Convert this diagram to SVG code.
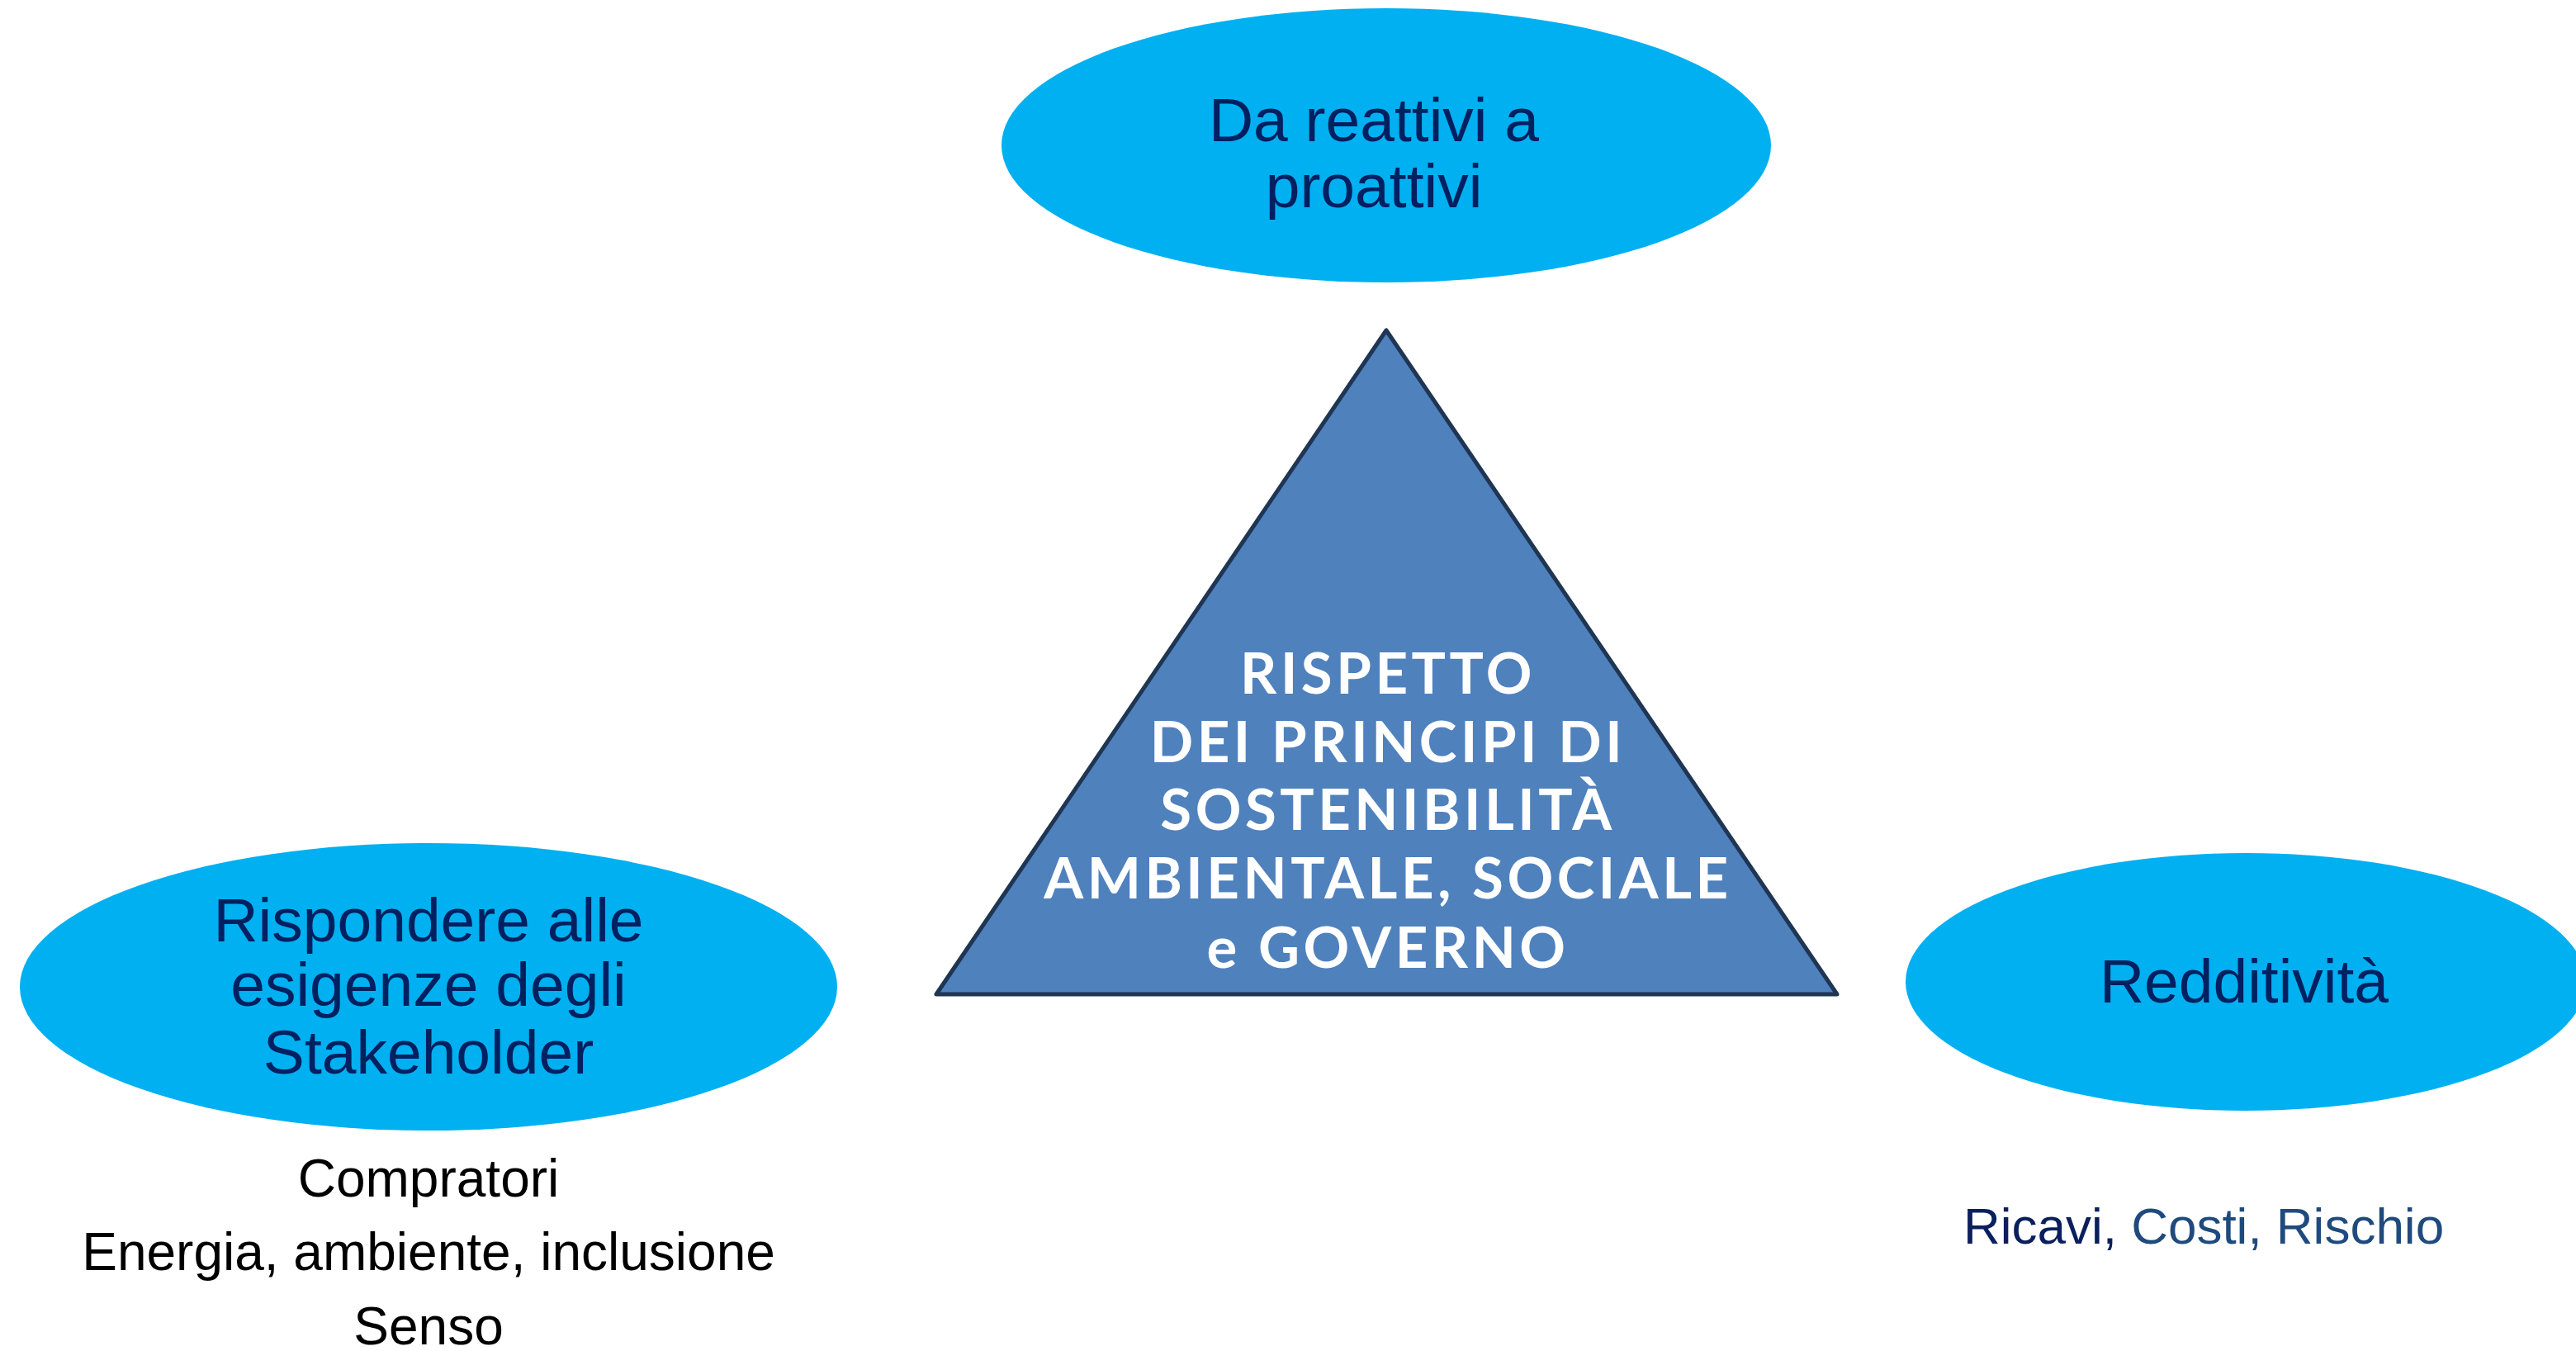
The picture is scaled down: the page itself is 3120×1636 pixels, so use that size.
<svg xmlns="http://www.w3.org/2000/svg" width="3120" height="1636" viewBox="0 0 3120 1636">
<style>
.oval{fill:#00B0F0;}
.ot{font-family:"Liberation Sans",Arial,sans-serif;font-size:75px;fill:#002060;text-anchor:middle;}
.tt{font-family:"Lato","Open Sans",sans-serif;font-weight:700;font-size:69px;fill:#FFFFFF;text-anchor:middle;letter-spacing:4.5px;}
.sub{font-family:"Liberation Sans",Arial,sans-serif;font-size:64px;text-anchor:middle;}
.sub2{font-family:"Liberation Sans",Arial,sans-serif;font-size:62px;text-anchor:middle;}
</style>
<rect x="0" y="0" width="3120" height="1636" fill="#FFFFFF"/>
<g id="connectors"></g>
<g id="node-top">
<ellipse class="oval" cx="1679" cy="176" rx="466" ry="166"/>
<text class="ot" x="1664" y="171">Da reattivi a</text>
<text class="ot" x="1664" y="251">proattivi</text>
</g>
<g id="node-triangle">
<polygon points="1679,400 1134,1204 2225,1204" fill="#4F81BD" stroke="#1F3552" stroke-width="5" stroke-linejoin="round"/>
<text class="tt" x="1681" y="840">RISPETTO</text>
<text class="tt" x="1681" y="923">DEI PRINCIPI DI</text>
<text class="tt" x="1681" y="1005">SOSTENIBILITÀ</text>
<text class="tt" x="1681" y="1088">AMBIENTALE, SOCIALE</text>
<text class="tt" x="1681" y="1172">e GOVERNO</text>
</g>
<g id="node-left">
<ellipse class="oval" cx="519" cy="1195" rx="495" ry="174"/>
<text class="ot" x="519" y="1140">Rispondere alle</text>
<text class="ot" x="519" y="1218">esigenze degli</text>
<text class="ot" x="519" y="1300">Stakeholder</text>
</g>
<g id="label-left">
<text class="sub" x="519" y="1449" fill="#000000">Compratori</text>
<text class="sub" x="519" y="1538" fill="#000000">Energia, ambiente, inclusione</text>
<text class="sub" x="519" y="1628" fill="#000000">Senso</text>
</g>
<g id="node-right">
<ellipse class="oval" cx="2720" cy="1189" rx="412" ry="156"/>
<text class="ot" x="2718" y="1214">Redditività</text>
</g>
<g id="label-right">
<text class="sub2" x="2669" y="1506"><tspan fill="#0A1F5C">Ricavi,</tspan><tspan fill="#1F4A7D"> Costi, Rischio</tspan></text>
</g>
</svg>
